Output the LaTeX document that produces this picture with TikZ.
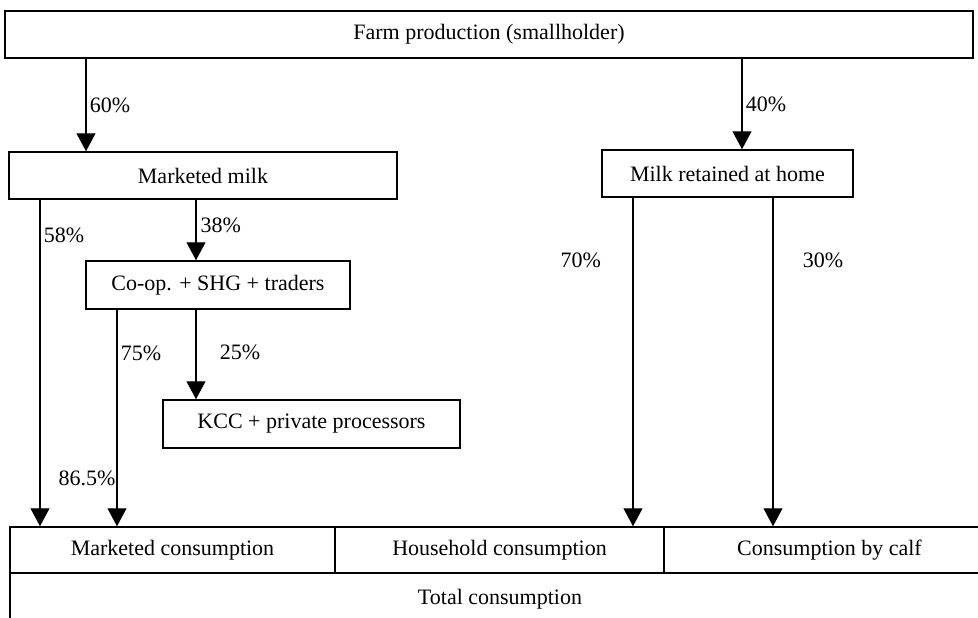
\documentclass[tikz,border=0pt]{standalone}
\usepackage{fontspec}
\setmainfont{Liberation Serif}
\usetikzlibrary{arrows.meta}
\begin{document}
\begin{tikzpicture}[x=1pt, y=-1pt, >={Triangle[width=19pt,length=18pt]},
    box/.style={draw, line width=1.5pt, inner sep=0pt, font=\fontsize{22}{24}\selectfont},
    lab/.style={font=\fontsize{22}{24}\selectfont}]
\clip (0,0) rectangle (978,618);
\node[box, minimum width=968pt, minimum height=47pt] (farm) at (489,34.5) {Farm production (smallholder)};
\node[box, minimum width=388pt, minimum height=47pt] (mkt) at (203,175.5) {Marketed milk};
\node[box, minimum width=251pt, minimum height=47pt] (home) at (727.5,173.5) {Milk retained at home};
\node[box, minimum width=264pt, minimum height=48pt] (coop) at (218,285) {Co-op. + SHG + traders};
\node[box, minimum width=297pt, minimum height=48pt] (kcc) at (311.5,424) {KCC + private processors};
\node[box, minimum width=325pt, minimum height=46pt] (mcons) at (172.5,550) {Marketed consumption};
\node[box, minimum width=329pt, minimum height=46pt] (hcons) at (499.5,550) {Household consumption};
\node[box, minimum width=331pt, minimum height=46pt] (ccons) at (829.5,550) {Consumption by calf};
\node[box, minimum width=980pt, minimum height=52pt] (total) at (500,599) {Total consumption};

\draw[->, line width=1.2pt](farm.south -| 86,0)--node[lab, right, pos=.5]{60\%}(mkt.north -| 86,0);
\draw[->, line width=1.2pt](farm.south -| 742,0)--node[lab, right, pos=.5]{40\%}(home.north -| 742,0);
\draw[->, line width=1.2pt](mkt.south -| 196,0)--node[lab, right, pos=.42, inner sep=4pt]{38\%}(coop.north -| 196,0);
\draw[->, line width=1.2pt](mkt.south -| 40,0)--node[lab, right, pos=.11]{58\%}(mcons.north -| 40,0);
\draw[->, line width=1.2pt](coop.south -| 117,0)--node[lab, right, pos=.2]{75\%}
    node[lab, left, pos=.78, inner sep=1pt]{86.5\%}(mcons.north -| 117,0);
\draw[->, line width=1.2pt](coop.south -| 196,0)--node[lab, right=20pt, pos=.48]{25\%}(kcc.north -| 196,0);
\draw[->, line width=1.2pt](home.south -| 633,0)--node[lab, left=28pt, pos=.19]{70\%}(hcons.north -| 633,0);
\draw[->, line width=1.2pt](home.south -| 773,0)--node[lab, right=26pt, pos=.19]{30\%}(ccons.north -| 773,0);
\end{tikzpicture}
\end{document}
